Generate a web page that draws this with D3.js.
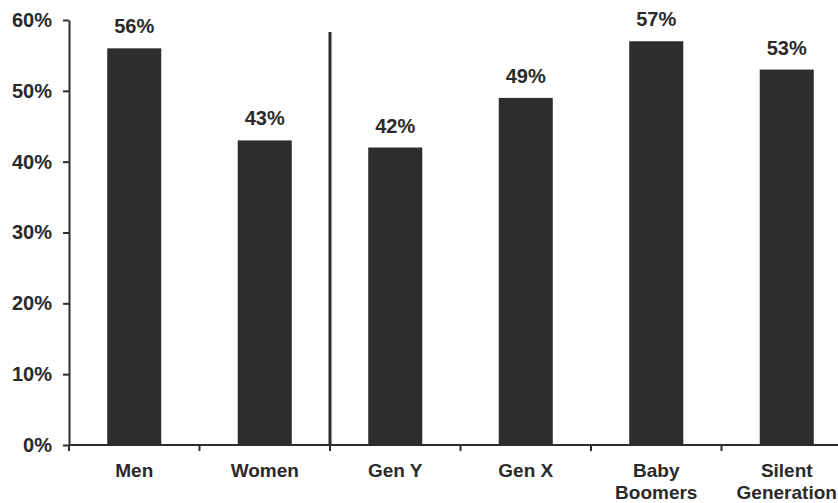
<!DOCTYPE html>
<html><head><meta charset="utf-8">
<script src="https://cdn.jsdelivr.net/npm/d3@7"></script>
<style>
html,body{margin:0;padding:0;background:#fff;}
svg text{font-family:"Liberation Sans",Arial,sans-serif;font-weight:bold;fill:#2a2a2a;}
</style></head>
<body><svg id="c" width="838" height="503"></svg>
<script>
const categories = ["Men","Women","Gen Y","Gen X","Baby Boomers","Silent Generation"];
const categoryLines = [["Men"],["Women"],["Gen Y"],["Gen X"],["Baby","Boomers"],["Silent","Generation"]];
const values = [56,43,42,49,57,53];
const yTicks = [0,10,20,30,40,50,60];
const dividerAfter = "Women";

const svg = d3.select("#c");
const ink = "#2d2d2d";
const pIn = 0.586;
const x = d3.scaleBand().domain(categories).range([69, 852]).paddingInner(pIn).paddingOuter(pIn/2);
const y = d3.scaleLinear().domain([0,60]).range([445,20]);
const step = x.step();

// bars
svg.selectAll("rect.bar").data(values).enter().append("rect")
  .attr("class","bar")
  .attr("x",(d,i)=>x(categories[i]))
  .attr("width",x.bandwidth())
  .attr("y",d=>y(d))
  .attr("height",d=>y(0)-y(d))
  .attr("fill",ink);

// value labels
svg.selectAll("text.val").data(values).enter().append("text")
  .attr("class","val")
  .attr("x",(d,i)=>x(categories[i])+x.bandwidth()/2)
  .attr("y",d=>y(d)-15)
  .attr("text-anchor","middle")
  .style("font-size","20px")
  .text(d=>d+"%");

// y axis
const yAxis = d3.axisLeft(y).tickValues(yTicks).tickFormat(d=>d+"%").tickSize(6).tickSizeOuter(0).tickPadding(11);
const gy = svg.append("g").attr("transform","translate(69,0)").call(yAxis);
gy.select(".domain").attr("stroke",ink).attr("stroke-width",2);
gy.selectAll(".tick line").attr("stroke",ink).attr("stroke-width",2);
gy.selectAll(".tick text").style("font-size","20px").attr("fill","#2a2a2a");

// x axis line
svg.append("line").attr("x1",69).attr("x2",838).attr("y1",y(0)).attr("y2",y(0))
  .attr("stroke",ink).attr("stroke-width",2);
// x ticks at band boundaries
const bounds = categories.map(c=>x(c)-step*pIn/2);
svg.selectAll("line.xt").data(bounds).enter().append("line")
  .attr("class","xt").attr("x1",d=>d).attr("x2",d=>d)
  .attr("y1",y(0)).attr("y2",y(0)+6).attr("stroke",ink).attr("stroke-width",2);

// category labels
const lab = svg.selectAll("text.cat").data(categoryLines).enter().append("text")
  .attr("class","cat")
  .attr("text-anchor","middle")
  .style("font-size","19px")
  .attr("transform",(d,i)=>`translate(${x(categories[i])+x.bandwidth()/2},477)`);
lab.selectAll("tspan").data(d=>d).enter().append("tspan")
  .attr("x",0).attr("dy",(d,i)=>i===0?0:22).text(d=>d);

// divider
const dx = x(dividerAfter)+x.bandwidth()+step*pIn/2;
svg.append("line").attr("x1",dx).attr("x2",dx).attr("y1",y(58.3)).attr("y2",y(0))
  .attr("stroke",ink).attr("stroke-width",3);
</script></body></html>
